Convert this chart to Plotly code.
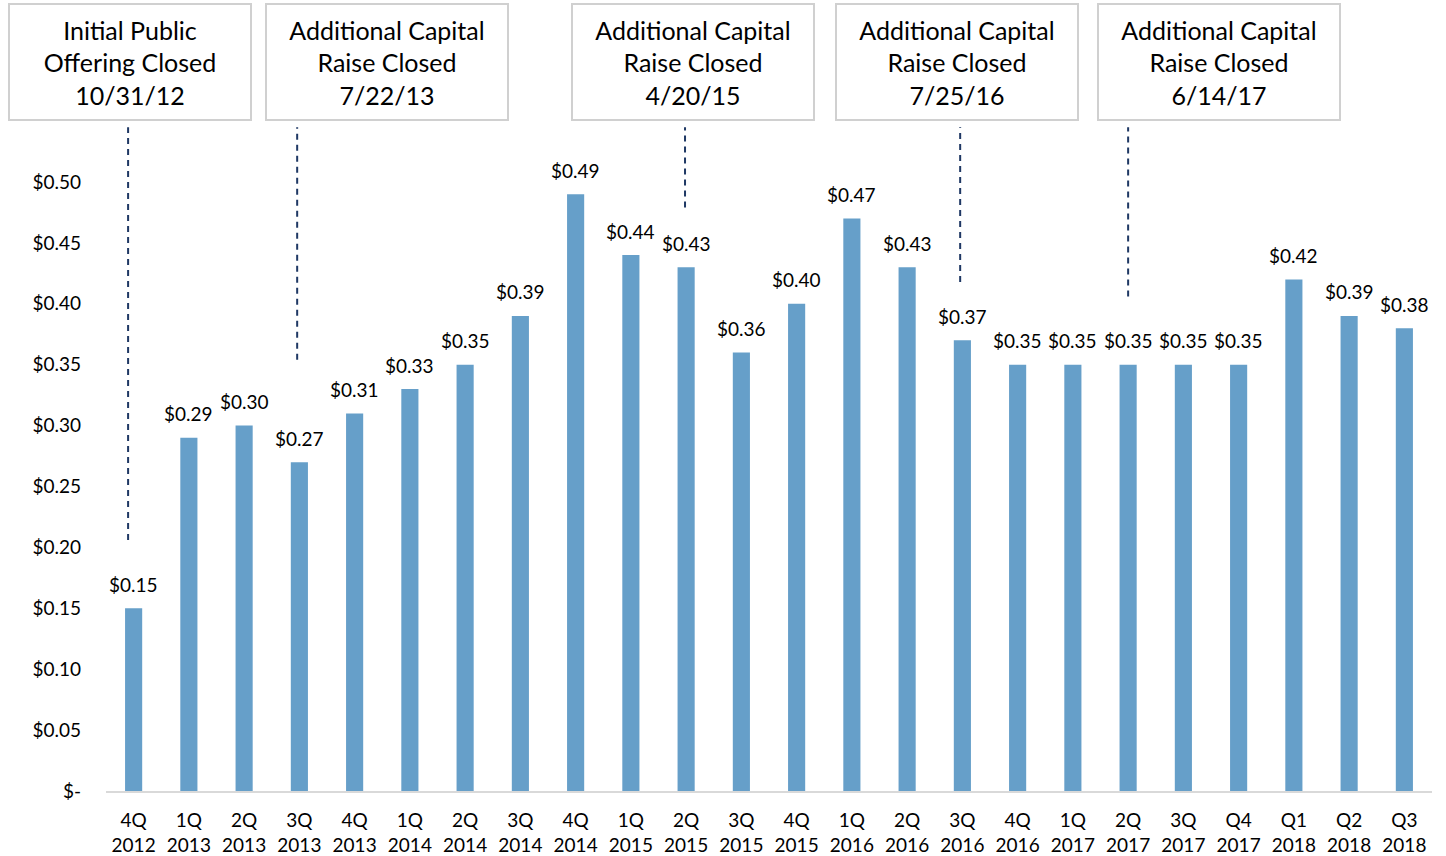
import plotly.graph_objects as go

categories = ["4Q<br>2012", "1Q<br>2013", "2Q<br>2013", "3Q<br>2013", "4Q<br>2013",
              "1Q<br>2014", "2Q<br>2014", "3Q<br>2014", "4Q<br>2014", "1Q<br>2015",
              "2Q<br>2015", "3Q<br>2015", "4Q<br>2015", "1Q<br>2016", "2Q<br>2016",
              "3Q<br>2016", "4Q<br>2016", "1Q<br>2017", "2Q<br>2017", "3Q<br>2017",
              "Q4<br>2017", "Q1<br>2018", "Q2<br>2018", "Q3<br>2018"]
values = [0.15, 0.29, 0.30, 0.27, 0.31, 0.33, 0.35, 0.39, 0.49, 0.44, 0.43, 0.36,
          0.40, 0.47, 0.43, 0.37, 0.35, 0.35, 0.35, 0.35, 0.35, 0.42, 0.39, 0.38]

y_tickvals = [0, 0.05, 0.10, 0.15, 0.20, 0.25, 0.30, 0.35, 0.40, 0.45, 0.50]
y_ticktext = ["$-", "$0.05", "$0.10", "$0.15", "$0.20", "$0.25", "$0.30", "$0.35",
              "$0.40", "$0.45", "$0.50"]

event_texts = ["Initial Public<br>Offering Closed<br>10/31/12",
               "Additional Capital<br>Raise Closed<br>7/22/13",
               "Additional Capital<br>Raise Closed<br>4/20/15",
               "Additional Capital<br>Raise Closed<br>7/25/16",
               "Additional Capital<br>Raise Closed<br>6/14/17"]
event_box_x = [-0.06, 4.58, 10.12, 14.9, 19.64]
event_line_x = [-0.1, 2.96, 9.98, 14.96, 18.0]
event_line_bottom = [0.206, 0.354, 0.479, 0.418, 0.406]

FONT = "Lato"
fig = go.Figure()
x_idx = list(range(len(categories)))
fig.add_trace(go.Bar(
    x=x_idx, y=values,
    marker=dict(color="#669fc9", line=dict(width=0)),
    hoverinfo="x+y",
))

shapes = []
annotations = []
ymax = 0.5
for i, v in zip(x_idx, values):
    annotations.append(dict(
        x=i, y=v, xref="x", yref="y", text=f"${v:.2f}", showarrow=False,
        yanchor="middle", xanchor="center", yshift=24,
        font=dict(size=19, color="#000000", family=FONT),
    ))
for t, bx, lx, lb in zip(event_texts, event_box_x, event_line_x, event_line_bottom):
    annotations.append(dict(
        x=bx, y=1.197, xref="x", yref="paper", text=t, showarrow=False,
        xanchor="center", yanchor="middle",
        font=dict(size=25, color="#000000", family=FONT),
        width=236, height=110, bordercolor="#d0d0d0", borderwidth=2, borderpad=2,
        bgcolor="#ffffff", align="center", valign="middle",
    ))
    shapes.append(dict(
        type="line", xref="x", yref="paper", x0=lx, x1=lx,
        y0=lb / ymax, y1=1.09,
        line=dict(color="#1f3864", width=2, dash="6px,5px"),
    ))

fig.update_layout(
    width=1446, height=856,
    margin=dict(l=106, r=14, t=182, b=65, autoexpand=False),
    paper_bgcolor="#ffffff", plot_bgcolor="#ffffff",
    bargap=0.69, showlegend=False,
    font=dict(family=FONT, color="#000000"),
    shapes=shapes, annotations=annotations,
    xaxis=dict(
        tickmode="array", tickvals=x_idx, ticktext=categories,
        range=[-0.5, len(categories) - 0.5], automargin=False,
        showgrid=False, zeroline=False, showline=True, linecolor="#d9d9d9", linewidth=2,
        ticks="", tickfont=dict(size=19, color="#000000", family=FONT),
        ticklabelstandoff=11,
    ),
    yaxis=dict(
        range=[0, ymax], tickmode="array", tickvals=y_tickvals, ticktext=y_ticktext,
        showgrid=False, zeroline=False, showline=False, ticks="", automargin=False,
        tickfont=dict(size=19, color="#000000", family=FONT), ticklabelstandoff=24,
    ),
)

fig.write_html("out.html", config={"displayModeBar": False},
               post_script="document.body.style.margin='0px';")
